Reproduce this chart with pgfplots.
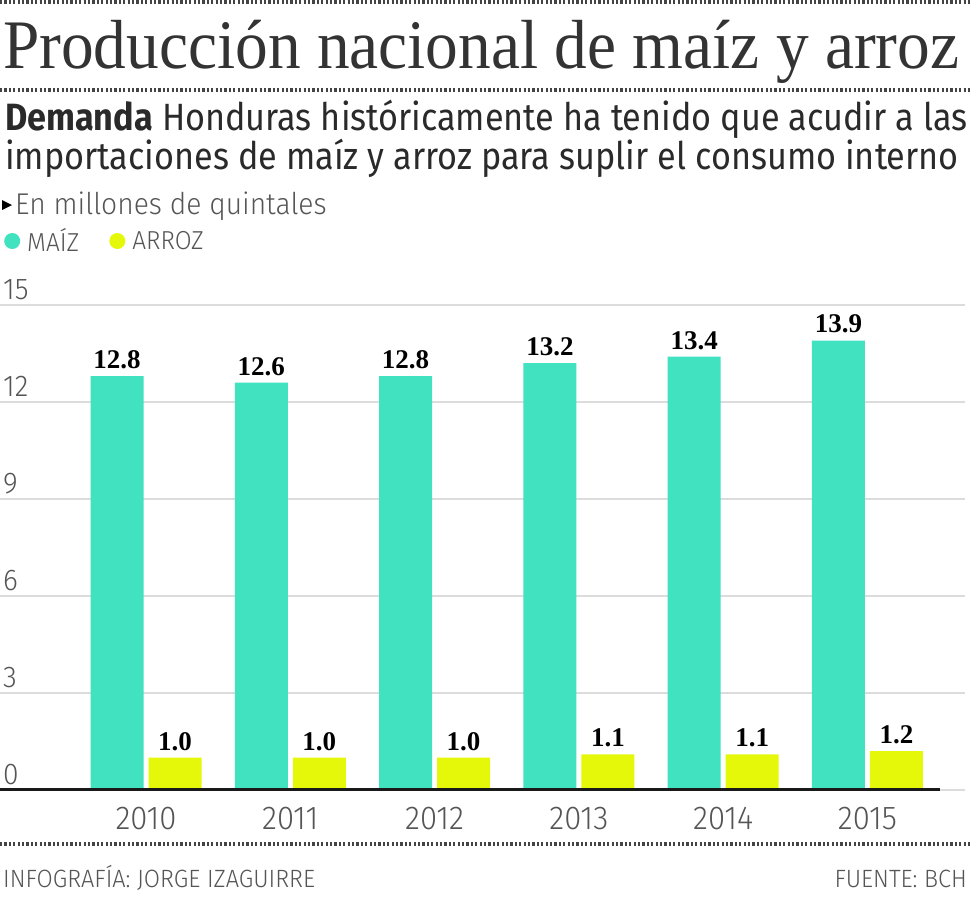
\documentclass[border=0pt]{standalone}
\usepackage{pgfplots}
\pgfplotsset{compat=1.18}
\usepackage{fontspec}
\setmainfont{Fira Sans}
\newfontfamily\titlefont[FakeStretch=0.94]{Liberation Serif}
\newfontfamily\subfont[FakeStretch=0.9]{Fira Sans}
\newfontfamily\lightfont[FakeStretch=0.94]{Fira Sans Light}
\newfontfamily\valfont{Liberation Serif}
\definecolor{maize}{HTML}{40E2C0}
\definecolor{arroz}{HTML}{E6F80A}
\definecolor{titlegray}{HTML}{333333}
\definecolor{subgray}{HTML}{2A2A2A}
\definecolor{lightgray}{HTML}{555555}
\definecolor{gridgray}{HTML}{DCDCDC}
\definecolor{dotgray}{HTML}{444444}
\begin{document}
\begin{tikzpicture}[x=1pt,y=1pt]
\useasboundingbox (0,0) rectangle (972,-900);
\fill[white] (0,0) rectangle (972,-900);
% dotted rules
\draw[dotgray, line width=4pt, dash pattern=on 2.2pt off 2.2pt] (0,-2) -- (972,-2);
\draw[dotgray, line width=4pt, dash pattern=on 2.2pt off 2.2pt] (0,-90) -- (972,-90);
\draw[dotgray, line width=4pt, dash pattern=on 2.2pt off 2.2pt] (0,-844) -- (972,-844);
% title and texts
\node[anchor=base west, inner sep=0pt, text=titlegray, font=\titlefont\fontsize{69.5}{70}\selectfont] at (3,-68) {Producción nacional de maíz y arroz};
\node[anchor=base west, inner sep=0pt, text=subgray, font=\subfont\fontsize{38}{40}\selectfont] at (5,-130) {\textbf{Demanda} Honduras históricamente ha tenido que acudir a las};
\node[anchor=base west, inner sep=0pt, text=subgray, font=\subfont\fontsize{38}{40}\selectfont] at (5,-169) {importaciones de maíz y arroz para suplir el consumo interno};
\fill[black] (2,-200) -- (12,-205) -- (2,-210) -- cycle;
\node[anchor=base west, inner sep=0pt, text=lightgray, font=\lightfont\fontsize{30}{32}\selectfont] at (15,-214) {En millones de quintales};
\node[anchor=base west, inner sep=0pt, text=lightgray, font=\lightfont\fontsize{25}{27}\selectfont] at (3,-887) {INFOGRAFÍA: JORGE IZAGUIRRE};
\node[anchor=base east, inner sep=0pt, text=lightgray, font=\lightfont\fontsize{25}{27}\selectfont] at (967,-887) {FUENTE: BCH};
\begin{axis}[
  at={(0pt,-790pt)}, anchor=south west,
  scale only axis, width=965pt, height=485pt,
  xmin=-1.012, xmax=5.676, ymin=0, ymax=15,
  ybar, bar width=53pt,
  axis line style={draw=none},
  major tick length=0pt,
  ytick={0,3,6,9,12,15},
  xtick={0,1,2,3,4,5},
  xticklabels={2010,2011,2012,2013,2014,2015},
  ymajorgrids,
  grid style={gridgray, line width=2pt},
  yticklabel style={anchor=south west, inner sep=0pt, xshift=3pt, yshift=5pt, text=lightgray, font=\lightfont\fontsize{30}{32}\selectfont},
  xticklabel style={anchor=north, inner sep=0pt, yshift=-17pt, text=lightgray, font=\lightfont\fontsize{33}{34}\selectfont},
  /pgf/number format/assume math mode=true,
  point meta=explicit symbolic,
  nodes near coords,
  nodes near coords style={anchor=south, inner sep=0pt, yshift=7pt, text=black, font=\valfont\bfseries\fontsize{27}{28}\selectfont},
  legend columns=2,
  legend style={at={(axis description cs:0,1.134)}, anchor=west, xshift=4pt, yshift=-1pt, draw=none, fill=none, inner sep=0pt, text=lightgray, font=\lightfont\fontsize{26}{27}\selectfont,
    /tikz/every even column/.append style={column sep=28pt}},
  legend cell align=left,
]
\addplot[fill=maize, draw=none, bar shift=-29pt, legend image code/.code={\fill[maize] (8pt,0pt) circle (8pt); \path (21pt,0pt);}]
  coordinates {(0,12.8)[12.8] (1,12.6)[12.6] (2,12.8)[12.8] (3,13.2)[13.2] (4,13.4)[13.4] (5,13.9)[13.9]};
\addplot[fill=arroz, draw=none, bar shift=29pt, legend image code/.code={\fill[arroz] (8pt,0pt) circle (8pt); \path (21pt,0pt);}]
  coordinates {(0,1.0)[1.0] (1,1.0)[1.0] (2,1.0)[1.0] (3,1.1)[1.1] (4,1.1)[1.1] (5,1.2)[1.2]};
\legend{MAÍZ,ARROZ}
\draw[black!90, line width=4pt] (axis cs:-1.012,0) -- (axis cs:5.5,0);
\end{axis}
\end{tikzpicture}
\end{document}
